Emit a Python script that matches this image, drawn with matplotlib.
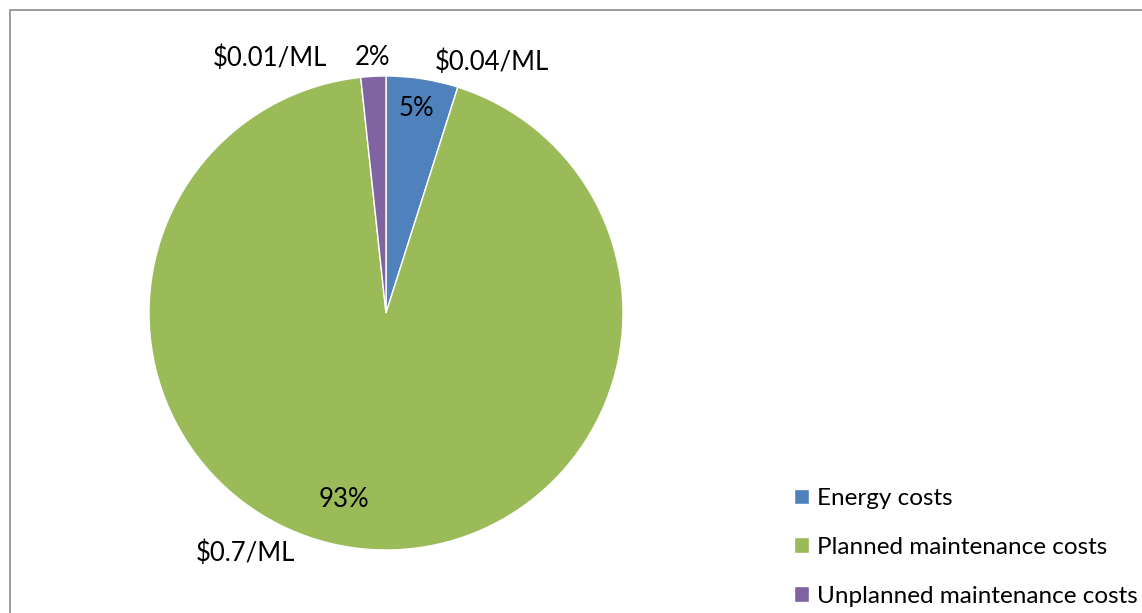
import matplotlib
matplotlib.use('Agg')
import matplotlib.pyplot as plt
from matplotlib.patches import Rectangle

# data
categories = ['Energy costs', 'Planned maintenance costs', 'Unplanned maintenance costs']
shares = [4.9, 93.4, 1.7]
cost_labels = ['$0.04/ML', '$0.7/ML', '$0.01/ML']
colors = ['#4F81BD', '#9BBB59', '#8064A2']

plt.rcParams['font.family'] = ['Lato', 'DejaVu Sans']

W, H = 1142, 613
fig = plt.figure(figsize=(W / 100, H / 100), dpi=100)

# grey chart frame (right and bottom edges run off the image)
fig.patches.append(Rectangle((9.5 / W, -0.1), 2, 1 - 9.5 / H + 0.1,
                             transform=fig.transFigure, fill=False,
                             edgecolor='#8c8c8c', lw=1.2))

cx, cy, r = 386, 313, 237
ax = fig.add_axes([(cx - r) / W, (H - cy - r) / H, 2 * r / W, 2 * r / H])

wedges, texts, autotexts = ax.pie(
    shares, labels=cost_labels, colors=colors, startangle=90, counterclock=False,
    autopct='%.0f%%', radius=1,
    wedgeprops=dict(edgecolor='white', linewidth=1),
    textprops=dict(fontsize=18.5, color='black'))
ax.set_xlim(-1, 1)
ax.set_ylim(-1, 1)
ax.axis('off')

# label placement as in the original (Excel best fit)
label_pos = [(0.447, 1.059), (-0.595, -1.013), (-0.489, 1.076)]
pct_pos = [(0.127, 0.861), (-0.177, -0.789), (-0.059, 1.076)]
for t, p in zip(texts, label_pos):
    t.set_position(p)
    t.set_ha('center')
    t.set_va('center')
for t, p in zip(autotexts, pct_pos):
    t.set_position(p)
    t.set_ha('center')
    t.set_va('center')

leg = fig.legend(wedges, categories, loc='upper left',
                 bbox_to_anchor=(782 / W, 1 - 476 / H), frameon=False,
                 fontsize=17.5, handlelength=0.62, handleheight=0.62,
                 handletextpad=0.3, labelspacing=1.14, borderpad=0)

fig.savefig('out.png', dpi=100)
